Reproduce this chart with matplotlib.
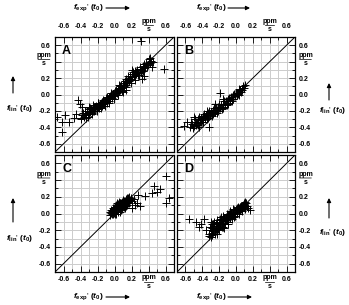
import numpy as np
import matplotlib.pyplot as plt
from matplotlib.ticker import MultipleLocator, FixedLocator, FixedFormatter
from matplotlib.transforms import blended_transform_factory, offset_copy

plt.rcParams['font.family'] = ['Liberation Sans', 'DejaVu Sans']
plt.rcParams['mathtext.fontset'] = 'custom'
plt.rcParams['mathtext.rm'] = 'Liberation Sans:bold'
plt.rcParams['mathtext.it'] = 'Liberation Sans:italic:bold'
plt.rcParams['mathtext.bf'] = 'Liberation Sans:bold'

# panel A: f_exp' (x) vs f_lin' (y)
ax_A = [-0.40, -0.38, -0.36, -0.35, -0.33, -0.32, -0.30, -0.29, -0.28, -0.27, -0.26, -0.25,
        -0.24, -0.23, -0.22, -0.21, -0.20, -0.19, -0.18, -0.17, -0.16, -0.15, -0.14, -0.13,
        -0.12, -0.11, -0.10, -0.09, -0.08, -0.07, -0.06, -0.05, -0.04, -0.03, -0.02, -0.01,
        0.00, 0.01, 0.02, 0.03, 0.04, 0.05, 0.06, 0.07, 0.08, 0.09, 0.10, 0.11, 0.12, 0.13,
        0.14, 0.15, 0.16, 0.17, 0.18, 0.19, 0.20, 0.21, 0.22, 0.23, 0.24, 0.25, 0.27, 0.28,
        0.30, 0.31, 0.33, 0.35, 0.37, 0.38, 0.40, 0.41, 0.42, 0.43,
        -0.39, -0.37, -0.34, -0.31, -0.29, -0.26, -0.24, -0.21, -0.19, -0.16, -0.14, -0.11,
        -0.09, -0.06, -0.04, -0.01, 0.01, 0.04, 0.06, 0.09, 0.11, 0.14, 0.16, 0.19, 0.21,
        0.24, 0.26, 0.29, 0.32, 0.34, 0.36, 0.39, -0.35, -0.30, -0.25, -0.20, -0.15, -0.10,
        -0.05, 0.00, 0.05, 0.10, 0.15, 0.20, 0.25, 0.30, 0.35,
        0.31, 0.58, 0.44, 0.32, 0.28, 0.35, 0.14, 0.10, -0.43, -0.41, -0.38, -0.68, -0.62,
        -0.58, -0.62, -0.54, -0.48, -0.45, -0.20, -0.30, 0.05, 0.20, 0.42, 0.45]
ay_A = [-0.28, -0.25, -0.27, -0.22, -0.25, -0.20, -0.24, -0.21, -0.18, -0.22, -0.19, -0.16,
        -0.20, -0.17, -0.14, -0.18, -0.15, -0.12, -0.16, -0.13, -0.10, -0.14, -0.11, -0.08,
        -0.12, -0.09, -0.06, -0.10, -0.05, -0.08, -0.03, -0.06, -0.01, -0.04, 0.01, -0.02,
        0.03, 0.00, 0.05, 0.02, 0.07, 0.04, 0.10, 0.06, 0.12, 0.08, 0.14, 0.10, 0.17, 0.12,
        0.19, 0.15, 0.22, 0.17, 0.23, 0.19, 0.25, 0.21, 0.27, 0.22, 0.29, 0.25, 0.30, 0.26,
        0.33, 0.28, 0.35, 0.32, 0.38, 0.34, 0.40, 0.43, 0.38, 0.41,
        -0.30, -0.23, -0.29, -0.27, -0.17, -0.24, -0.15, -0.20, -0.10, -0.17, -0.07, -0.14,
        -0.03, -0.10, 0.02, -0.06, 0.04, -0.01, 0.08, 0.04, 0.12, 0.09, 0.18, 0.14, 0.22,
        0.18, 0.28, 0.24, 0.30, 0.29, 0.34, 0.36, -0.20, -0.18, -0.13, -0.11, -0.09, -0.04,
        -0.02, 0.00, 0.07, 0.11, 0.17, 0.21, 0.27, 0.31, 0.37,
        0.65, 0.31, 0.33, 0.19, 0.24, 0.22, 0.06, 0.03, -0.07, -0.11, -0.15, -0.27, -0.33,
        -0.25, -0.46, -0.33, -0.29, -0.24, -0.10, -0.15, 0.12, 0.30, 0.44, 0.39]

# panel B
bx_B = [-0.55, -0.52, -0.50, -0.48, -0.46, -0.45, -0.43, -0.42, -0.40, -0.39, -0.37, -0.36,
        -0.34, -0.33, -0.31, -0.30, -0.28, -0.27, -0.25, -0.24, -0.22, -0.21, -0.19, -0.18,
        -0.16, -0.15, -0.13, -0.12, -0.10, -0.09, -0.07, -0.06, -0.04, -0.03, -0.01, 0.00,
        0.02, 0.03, 0.05, 0.07, 0.09, 0.11, 0.08, 0.04,
        -0.53, -0.49, -0.47, -0.44, -0.41, -0.38, -0.35, -0.32, -0.29, -0.26, -0.23, -0.20,
        -0.17, -0.14, -0.11, -0.08, -0.05, -0.02, 0.01, 0.04, 0.06, -0.51, -0.45, -0.39,
        -0.33, -0.27, -0.21, -0.15, -0.09, -0.03, 0.03,
        -0.62, -0.50, -0.32, -0.40, -0.19, -0.58, -0.44, -0.25, -0.35, -0.15]
by_B = [-0.40, -0.36, -0.38, -0.33, -0.35, -0.30, -0.33, -0.28, -0.31, -0.26, -0.29, -0.25,
        -0.27, -0.23, -0.25, -0.21, -0.23, -0.19, -0.21, -0.17, -0.19, -0.15, -0.17, -0.13,
        -0.15, -0.11, -0.12, -0.08, -0.10, -0.06, -0.07, -0.03, -0.05, -0.01, -0.02, 0.02,
        0.01, 0.04, 0.05, 0.06, 0.08, 0.11, 0.10, 0.07,
        -0.34, -0.30, -0.37, -0.27, -0.33, -0.24, -0.30, -0.20, -0.26, -0.16, -0.22, -0.12,
        -0.18, -0.08, -0.13, -0.04, -0.08, 0.01, -0.01, 0.06, 0.03, -0.41, -0.37, -0.33,
        -0.29, -0.24, -0.20, -0.16, -0.11, -0.06, -0.01,
        -0.38, -0.27, -0.40, -0.31, 0.02, -0.34, -0.40, -0.12, -0.20, -0.05]

# panel C
cx_C = [-0.05, -0.04, -0.03, -0.02, -0.01, 0.00, 0.01, 0.02, 0.03, 0.04, 0.05, 0.06, 0.07,
        0.08, 0.09, 0.10, 0.11, 0.12, 0.13, 0.14, 0.15, 0.16, 0.17, 0.18, 0.00, 0.03, 0.06,
        0.09, 0.12, -0.02, 0.05, 0.15, 0.02,
        -0.04, -0.03, -0.01, 0.00, 0.01, 0.02, 0.04, 0.05, 0.07, 0.08, 0.10, 0.11, 0.13,
        0.14, 0.16, 0.17, 0.19, 0.20, -0.05, 0.00, 0.04, 0.08, 0.12, 0.16, 0.06, 0.10, 0.14,
        0.02,
        0.60, 0.47, 0.54, 0.50, 0.44, 0.36, 0.28, 0.23, 0.60, 0.64, 0.24, 0.30, 0.21, 0.26]
cy_C = [-0.02, 0.01, 0.03, 0.00, 0.05, 0.02, 0.07, 0.04, 0.09, 0.05, 0.10, 0.07, 0.12,
        0.08, 0.14, 0.10, 0.15, 0.11, 0.17, 0.13, 0.19, 0.14, 0.20, 0.16, 0.08, 0.12, 0.02,
        0.05, 0.07, 0.06, 0.14, 0.10, -0.01,
        0.04, -0.01, 0.01, 0.06, 0.03, 0.08, 0.11, 0.07, 0.09, 0.13, 0.12, 0.08, 0.14,
        0.16, 0.17, 0.12, 0.18, 0.15, 0.02, -0.01, 0.02, 0.04, 0.09, 0.18, 0.13, 0.16, 0.09,
        0.10,
        0.45, 0.33, 0.29, 0.26, 0.24, 0.21, 0.22, 0.17, 0.13, 0.18, 0.10, 0.09, 0.06, 0.13]

# panel D
dx_D = [-0.32, -0.30, -0.29, -0.28, -0.27, -0.26, -0.25, -0.24, -0.23, -0.22, -0.21, -0.20,
        -0.19, -0.18, -0.17, -0.16, -0.15, -0.14, -0.13, -0.12, -0.11, -0.10, -0.09, -0.08,
        -0.07, -0.06, -0.05, -0.04, -0.03, -0.02, -0.01, 0.00, 0.01, 0.02, 0.03, 0.04, 0.05,
        0.06, 0.07, 0.08, 0.10, 0.12, -0.20, -0.15, -0.10, -0.25,
        -0.31, -0.29, -0.27, -0.25, -0.23, -0.21, -0.19, -0.17, -0.15, -0.13, -0.11, -0.09,
        -0.07, -0.05, -0.03, -0.01, 0.01, 0.03, 0.05, 0.07, 0.09, 0.11, 0.13, -0.30, -0.26,
        -0.22, -0.18, -0.14, -0.10, -0.06, -0.02, 0.02, 0.06, 0.10, -0.28, -0.24,
        -0.56, -0.48, -0.44, -0.42, -0.38, -0.30, -0.32, 0.17, 0.11, 0.14, -0.36]
dy_D = [-0.24, -0.20, -0.23, -0.17, -0.21, -0.15, -0.19, -0.13, -0.17, -0.11, -0.15, -0.10,
        -0.14, -0.08, -0.12, -0.06, -0.11, -0.05, -0.09, -0.04, -0.08, -0.02, -0.06, -0.01,
        -0.05, 0.01, -0.03, 0.02, -0.01, 0.04, 0.01, 0.05, 0.02, 0.06, 0.03, 0.07, 0.04,
        0.09, 0.06, 0.10, 0.08, 0.12, -0.20, -0.16, -0.12, -0.24,
        -0.16, -0.26, -0.12, -0.22, -0.08, -0.19, -0.06, -0.16, -0.03, -0.13, 0.00, -0.10,
        0.03, -0.07, 0.05, -0.03, 0.06, 0.00, 0.08, 0.03, 0.11, 0.05, 0.09, -0.28, -0.10,
        -0.24, -0.04, -0.17, -0.07, -0.02, -0.04, 0.08, 0.05, 0.13, -0.13, -0.18,
        -0.06, -0.10, -0.16, -0.12, -0.06, -0.10, -0.27, 0.04, 0.14, 0.07, -0.20]

tick_pos = [-0.6, -0.4, -0.2, 0.0, 0.2, 0.4, 0.6]
tick_lab = ['-0.6', '-0.4', '-0.2', '0.0', '0.2', '', '0.6']
unit_pos = 0.4

W, H = 349, 305
fig = plt.figure(figsize=(W / 100, H / 100), dpi=100)

def box(x0, y0, x1, y1):
    return [x0 / W, 1 - y1 / H, (x1 - x0) / W, (y1 - y0) / H]

def unit_label(ax, side):
    # "ppm" over "s" in place of the 0.4 tick label
    kw = dict(fontsize=5, fontweight='bold', ha='center', va='center')
    if side in ('top', 'bottom'):
        tr = blended_transform_factory(ax.transData, ax.transAxes)
        y0 = 1.0 if side == 'top' else 0.0
        d_ppm, d_s, d_bar = (11.5, 5.5, 8.6) if side == 'top' else (-4.0, -10.5, -7.0)
        ax.text(unit_pos, y0, 'ppm', transform=offset_copy(tr, fig, y=d_ppm, units='points'), **kw)
        ax.text(unit_pos, y0, 's', transform=offset_copy(tr, fig, y=d_s, units='points'), **kw)
        ax.plot([unit_pos - 0.055, unit_pos + 0.055], [y0, y0], color='black', lw=0.5,
                transform=offset_copy(tr, fig, y=d_bar, units='points'), clip_on=False)
    else:
        tr = blended_transform_factory(ax.transAxes, ax.transData)
        x0 = 0.0 if side == 'left' else 1.0
        dx = -8.0 if side == 'left' else 7.5
        ax.text(x0, unit_pos, 'ppm', transform=offset_copy(tr, fig, x=dx, y=4.2, units='points'), **kw)
        ax.text(x0, unit_pos, 's', transform=offset_copy(tr, fig, x=dx, y=-1.5, units='points'), **kw)
        ax.annotate('', xy=(x0, unit_pos), xycoords=offset_copy(tr, fig, x=dx + 4.3, y=1.5, units='points'),
                    xytext=(x0, unit_pos), textcoords=offset_copy(tr, fig, x=dx - 4.3, y=1.5, units='points'),
                    arrowprops=dict(arrowstyle='-', lw=0.5, color='black', shrinkA=0, shrinkB=0))

panels = [
    ('A', ax_A, ay_A, box(55, 37, 174, 152), 'top', 'left'),
    ('B', bx_B, by_B, box(177, 37, 295, 152), 'top', 'right'),
    ('C', cx_C, cy_C, box(55, 155, 174, 272), 'bottom', 'left'),
    ('D', dx_D, dy_D, box(177, 155, 295, 272), 'bottom', 'right'),
]

for name, xs, ys, rect, xside, yside in panels:
    ax = fig.add_axes(rect)
    ax.set_xlim(-0.7, 0.7)
    ax.set_ylim(-0.7, 0.7)
    for v in np.arange(-6, 7) / 10:
        ax.axvline(v, color='#cccccc', lw=0.7, zorder=0)
        ax.axhline(v, color='#cccccc', lw=0.7, zorder=0)
    ax.plot([-0.7, 0.7], [-0.7, 0.7], color='black', lw=0.7, zorder=1)
    ax.plot(xs, ys, '+', color='black', ms=6, mew=0.7, zorder=2)
    ax.text(0.06, 0.93, name, transform=ax.transAxes, fontsize=9, fontweight='bold',
            ha='left', va='top')
    for axis in (ax.xaxis, ax.yaxis):
        axis.set_major_locator(FixedLocator(tick_pos))
        axis.set_major_formatter(FixedFormatter(tick_lab))
        axis.set_minor_locator(MultipleLocator(0.1))
    ax.tick_params(which='both', direction='in', top=True, bottom=True, left=True,
                   right=True, width=0.6, labelsize=5, pad=3)
    ax.tick_params(which='major', length=4)
    ax.tick_params(which='minor', length=2.5)
    ax.tick_params(labeltop=(xside == 'top'), labelbottom=(xside == 'bottom'),
                   labelleft=(yside == 'left'), labelright=(yside == 'right'))
    if xside == 'top':
        ax.tick_params(axis='x', pad=5)
    for lab in ax.get_xticklabels() + ax.get_yticklabels():
        lab.set_fontweight('bold')
    for sp in ax.spines.values():
        sp.set_linewidth(0.9)
    unit_label(ax, xside)
    unit_label(ax, yside)

# overlay in pixel units (origin top-left) for the axis titles and their arrows
over = fig.add_axes([0, 0, 1, 1], zorder=10)
over.set_xlim(0, W)
over.set_ylim(H, 0)
over.axis('off')

xlab = r"$f_{\mathrm{exp}}$' $(t_0)$"
ylab = r"$f_{\mathrm{lin}}$' $(t_0)$"
arrow_kw = dict(arrowstyle='-|>', lw=0.8, color='black', mutation_scale=6,
                shrinkA=0, shrinkB=0)

x_labels = [(88, 8, 106, 130), (211, 8, 228, 250), (88, 297, 106, 130), (211, 297, 228, 252)]
for tx, ty, a0, a1 in x_labels:
    over.text(tx, ty, xlab, fontsize=6, ha='center', va='center')
    over.annotate('', xy=(a1, ty), xytext=(a0, ty), arrowprops=arrow_kw)

y_labels = [(20, 108, 13, 93, 76), (333, 110, 329, 100, 83),
            (20, 238, 13, 222, 198), (333, 232, 329, 218, 198)]
for tx, ty, arx, a0, a1 in y_labels:
    over.text(tx, ty, ylab, fontsize=6, ha='center', va='center')
    over.annotate('', xy=(arx, a1), xytext=(arx, a0), arrowprops=arrow_kw)

fig.savefig('out.png', dpi=100)
